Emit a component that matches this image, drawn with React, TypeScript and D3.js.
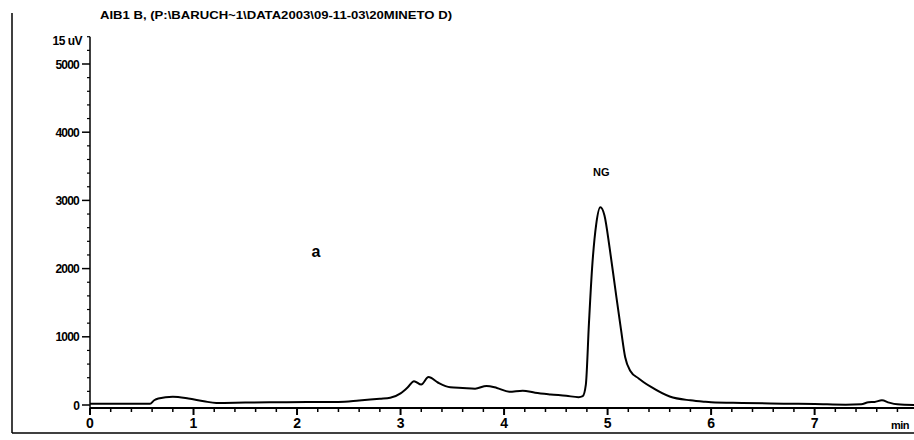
import React from "react";
import * as d3 from "d3";

// Chromatogram trace: retention time (min) and detector response (uV)
const timeMin = [
  0, 0.3, 0.58, 0.62, 0.66, 0.8, 0.95, 1.1, 1.22, 1.5, 1.8, 2.1, 2.4, 2.6, 2.8, 2.9,
  3.0, 3.07, 3.13, 3.2, 3.27, 3.36, 3.48, 3.6, 3.72, 3.83, 3.93, 4.05, 4.18, 4.3, 4.45,
  4.6, 4.72, 4.76, 4.79, 4.82, 4.85, 4.89, 4.93, 4.97, 5.02, 5.07, 5.13, 5.17, 5.22,
  5.3, 5.42, 5.6, 5.8, 5.93, 6.0, 6.3, 6.7, 7.0, 7.3, 7.45, 7.52, 7.58, 7.65, 7.72,
  7.8, 7.96,
];
const responseUV = [
  20, 20, 20, 70, 95, 120, 95, 55, 30, 35, 40, 45, 45, 65, 90, 105,
  170, 260, 350, 300, 410, 330, 260, 250, 240, 280, 250, 195, 210, 180, 155,
  135, 115, 130, 300, 1200, 2000, 2650, 2900, 2780, 2300, 1750, 1100, 700, 500,
  390, 265, 125, 68, 48, 40, 30, 20, 15, 5, 10, 40, 45, 70, 35,
  10, 0,
];

const xMajorTicks = [0, 1, 2, 3, 4, 5, 6, 7];
const yMajorTicks = [0, 1000, 2000, 3000, 4000, 5000];

const titleText = "AIB1 B,  (P:\\BARUCH~1\\DATA2003\\09-11-03\\20MINETO D)";
const yUnitLabel = "15 uV";
const xUnitLabel = "min";
const peakLabel = "NG";
const panelLabel = "a";
const peakTime = 4.93;

export default function App() {
  const W = 914;
  const H = 440;
  const x = d3.scaleLinear().domain([0, 7.96]).range([90, 914]);
  const y = d3.scaleLinear().domain([0, 5000]).range([405, 64]);

  const data = timeMin.map((t, i) => ({ t, v: responseUV[i] }));
  const line = d3
    .line<{ t: number; v: number }>()
    .x((d) => x(d.t))
    .y((d) => y(d.v))
    .curve(d3.curveMonotoneX);

  const xMinor = d3.range(0, 7.96, 0.2).filter((t) => Math.abs(t - Math.round(t)) > 0.01);
  const yMinor = d3.range(0, 5401, 200).filter((v) => v % 1000 !== 0);
  const axisY = y(0) + 3;
  const font = "'Liberation Sans', Arial, sans-serif";
  const peakV = responseUV[timeMin.indexOf(peakTime)];

  return (
    <svg
      width={W}
      height={H}
      style={{ position: "absolute", left: 0, top: 0, background: "#fff" }}
      fontFamily={font}
    >
      {/* frame lines */}
      <line x1={12} y1={13} x2={12} y2={433} stroke="#000" strokeWidth={1.5} />
      <line x1={12} y1={433} x2={914} y2={433} stroke="#000" strokeWidth={1.5} />

      <text
        x={100}
        y={19}
        fontSize={11}
        fontWeight="bold"
        fill="#000"
        textLength={352}
        lengthAdjust="spacingAndGlyphs"
      >
        {titleText}
      </text>

      {/* y axis */}
      <line x1={x(0)} y1={y(5400)} x2={x(0)} y2={axisY} stroke="#000" strokeWidth={1.5} />
      {yMajorTicks.map((v) => (
        <g key={"ym" + v}>
          <line x1={x(0) - 8} x2={x(0)} y1={y(v)} y2={y(v)} stroke="#000" strokeWidth={1.5} />
          <text
            x={x(0) - 11}
            y={y(v) + 4.5}
            textAnchor="end"
            fontSize={12}
            fontWeight="bold"
            letterSpacing={-0.8}
          >
            {v}
          </text>
        </g>
      ))}
      {yMinor.map((v) => (
        <line key={"yn" + v} x1={x(0) - 3} x2={x(0)} y1={y(v)} y2={y(v)} stroke="#000" strokeWidth={1.2} />
      ))}
      <text x={x(0) - 8} y={y(5350) + 4.5} textAnchor="end" fontSize={12} fontWeight="bold" letterSpacing={-0.5}>
        {yUnitLabel}
      </text>

      {/* x axis */}
      <line x1={x(0)} y1={axisY} x2={914} y2={axisY} stroke="#000" strokeWidth={2} />
      {xMajorTicks.map((t) => (
        <g key={"xm" + t}>
          <line x1={x(t)} x2={x(t)} y1={axisY} y2={axisY + 7} stroke="#000" strokeWidth={2} />
          <text x={x(t)} y={428} textAnchor="middle" fontSize={14} fontWeight="bold">
            {t}
          </text>
        </g>
      ))}
      {xMinor.map((t) => (
        <line key={"xn" + t} x1={x(t)} x2={x(t)} y1={axisY} y2={axisY + 4} stroke="#000" strokeWidth={1.5} />
      ))}
      <text x={891} y={429} fontSize={11} fontWeight="bold" letterSpacing={-0.5}>
        {xUnitLabel}
      </text>

      {/* trace */}
      <path d={line(data) ?? ""} fill="none" stroke="#000" strokeWidth={2} strokeLinejoin="round" />

      <text x={x(peakTime) + 1} y={y(peakV) - 31} textAnchor="middle" fontSize={11} fontWeight="bold">
        {peakLabel}
      </text>
      <text x={316} y={257} textAnchor="middle" fontSize={16} fontWeight="bold">
        {panelLabel}
      </text>
    </svg>
  );
}
